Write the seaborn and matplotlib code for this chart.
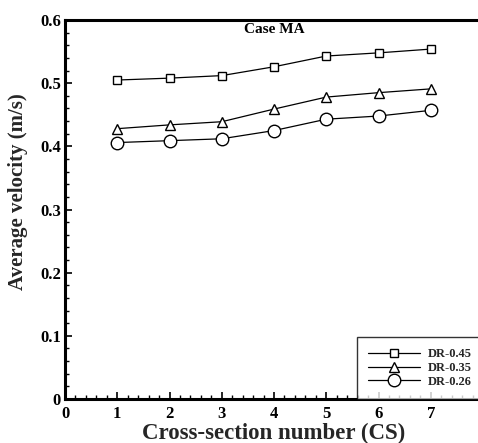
import numpy as np
import pandas as pd
import matplotlib
matplotlib.use("Agg")
import matplotlib.pyplot as plt
from matplotlib.ticker import MultipleLocator, FixedLocator, FuncFormatter
import seaborn as sns

sns.set_theme(style="white")
plt.rcParams['font.family'] = ['Liberation Serif', 'DejaVu Serif']
plt.rcParams['font.weight'] = 'bold'

cross_section = [1, 2, 3, 4, 5, 6, 7]
dr_045 = [0.505, 0.508, 0.512, 0.526, 0.543, 0.548, 0.554]
dr_035 = [0.428, 0.434, 0.439, 0.459, 0.478, 0.485, 0.491]
dr_026 = [0.406, 0.409, 0.412, 0.425, 0.443, 0.448, 0.457]
series_names = ["DR-0.45", "DR-0.35", "DR-0.26"]
x_ticks = [0, 1, 2, 3, 4, 5, 6, 7]

df = pd.DataFrame({
    "CS": cross_section * 3,
    "velocity": dr_045 + dr_035 + dr_026,
    "series": np.repeat(series_names, len(cross_section)),
})

fig = plt.figure(figsize=(4.78, 4.43), dpi=100)
ax = fig.add_axes([0.136, 0.0993, 0.8745, 0.8555])

markers = {"DR-0.45": "s", "DR-0.35": "^", "DR-0.26": "o"}
sizes = {"DR-0.45": 6.0, "DR-0.35": 7.5, "DR-0.26": 9.0}
for name in series_names:
    sub = df[df["series"] == name]
    sns.lineplot(data=sub, x="CS", y="velocity", ax=ax, color="black",
                 linewidth=0.9, marker=markers[name], markersize=sizes[name],
                 markerfacecolor="white", markeredgecolor="black",
                 markeredgewidth=1.0, label=name)

ax.set_xlim(0, 8)
ax.set_ylim(0, 0.6)
ax.xaxis.set_major_locator(FixedLocator(x_ticks))
ax.xaxis.set_minor_locator(MultipleLocator(0.2))
ax.yaxis.set_major_locator(MultipleLocator(0.1))
ax.yaxis.set_minor_locator(MultipleLocator(0.02))

def yfmt(v, pos):
    return "0" if abs(v) < 1e-9 else f"{v:.1f}"
ax.yaxis.set_major_formatter(FuncFormatter(yfmt))
ax.xaxis.set_major_formatter(FuncFormatter(lambda v, pos: f"{int(round(v))}"))

ax.tick_params(which="both", direction="in", colors="black", labelsize=12,
               bottom=True, left=True, top=False, right=False)
ax.tick_params(axis="x", which="major", pad=5)
ax.tick_params(axis="y", which="major", pad=3)
ax.tick_params(which="major", length=5, width=1.2)
ax.tick_params(which="minor", length=3, width=1.0)
for lab in ax.get_xticklabels() + ax.get_yticklabels():
    lab.set_fontweight("bold")

for side in ["left", "bottom", "top", "right"]:
    ax.spines[side].set_color("black")
    ax.spines[side].set_linewidth(2.2)

ax.set_xlabel("Cross-section number (CS)", fontsize=16.5, fontweight="bold", labelpad=1)
ax.set_ylabel("Average velocity (m/s)", fontsize=15, fontweight="bold")
ax.yaxis.set_label_coords(-0.088, 0.548)

ax.text(4.0, 0.585, "Case MA", ha="center", va="center", fontsize=11,
        fontweight="bold", color="black")

leg = ax.legend(loc="lower right", borderaxespad=0, frameon=True, fancybox=False,
                edgecolor="black", handlelength=4.2, labelspacing=0.15,
                borderpad=0.9, handletextpad=0.6, prop={"weight": "bold", "size": 9})
leg.get_frame().set_linewidth(1.0)

fig.savefig("out.png", dpi=100)
